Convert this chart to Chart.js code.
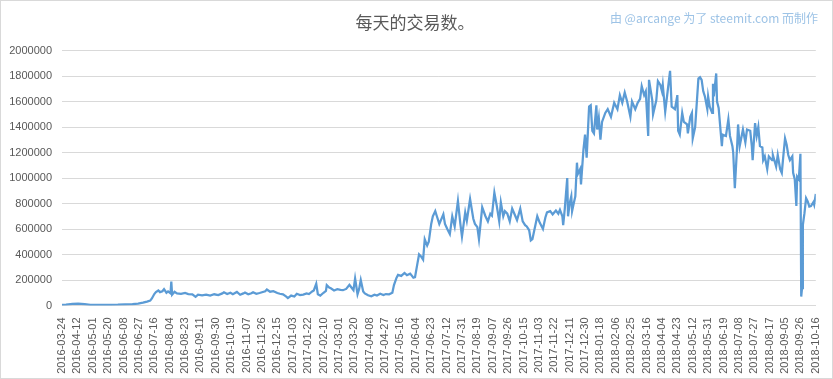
<!DOCTYPE html>
<html>
<head>
<meta charset="utf-8">
<script src="https://cdn.jsdelivr.net/npm/chart.js@4"></script>
<style>
  html, body { margin: 0; padding: 0; background: #ffffff; }
  canvas { display: block; }
</style>
</head>
<body>
<canvas id="txChart" width="833" height="379"></canvas>
<script>
// Daily transaction count on Steem, 2016-03-24 .. 2018-10-16
// x = days since 2016-03-24, y = transactions that day
const chartTitle = '每天的交易数。';
const creditText = '由 @arcange 为了 steemit.com 而制作';

const tickLabels = [
    '2016-03-24', '2016-04-12', '2016-05-01', '2016-05-20', '2016-06-08', '2016-06-27', '2016-07-16',
    '2016-08-04', '2016-08-23', '2016-09-11', '2016-09-30', '2016-10-19', '2016-11-07', '2016-11-26',
    '2016-12-15', '2017-01-03', '2017-01-22', '2017-02-10', '2017-03-01', '2017-03-20', '2017-04-08',
    '2017-04-27', '2017-05-16', '2017-06-04', '2017-06-23', '2017-07-12', '2017-07-31', '2017-08-19',
    '2017-09-07', '2017-09-26', '2017-10-15', '2017-11-03', '2017-11-22', '2017-12-11', '2017-12-30',
    '2018-01-18', '2018-02-06', '2018-02-25', '2018-03-16', '2018-04-04', '2018-04-23', '2018-05-12',
    '2018-05-31', '2018-06-19', '2018-07-08', '2018-07-27', '2018-08-17', '2018-09-05', '2018-09-26',
    '2018-10-16'
];

const days = [
    0, 5, 13, 20, 28, 35, 47, 60, 69, 78,
    87, 94, 100, 105, 109, 111, 114, 116, 119, 121,
    124, 126, 129, 131, 134, 135, 136, 139, 142, 147,
    152, 156, 161, 165, 168, 173, 178, 183, 188, 193,
    198, 200, 204, 208, 211, 216, 220, 224, 226, 230,
    234, 236, 240, 244, 247, 251, 253, 257, 261, 266,
    269, 273, 277, 279, 283, 287, 290, 294, 298, 302,
    305, 309, 311, 314, 316, 319, 323, 326, 327, 330,
    332, 336, 340, 344, 347, 351, 355, 357, 360, 362,
    365, 367, 369, 372, 374, 378, 382, 386, 389, 393,
    397, 400, 404, 408, 410, 413, 415, 419, 423, 426,
    430, 434, 436, 439, 441, 444, 446, 448, 451, 453,
    456, 458, 461, 463, 466, 468, 471, 473, 476, 479,
    482, 485, 489, 492, 494, 498, 500, 504, 508, 510,
    513, 515, 519, 523, 526, 529, 531, 534, 537, 540,
    542, 545, 547, 550, 553, 556, 560, 562, 566, 569,
    572, 574, 577, 579, 581, 583, 587, 590, 594, 597,
    599, 603, 606, 610, 613, 615, 618, 619, 621, 624,
    625, 627, 629, 630, 632, 634, 636, 637, 640, 641,
    644, 646, 648, 651, 653, 655, 657, 660, 661, 663,
    665, 667, 671, 674, 678, 682, 686, 689, 692, 695,
    698, 702, 704, 708, 711, 714, 716, 719, 721, 724,
    725, 729, 730, 734, 736, 739, 741, 742, 745, 748,
    751, 753, 755, 757, 760, 761, 763, 766, 768, 772,
    773, 776, 778, 779, 782, 786, 788, 790, 792, 794,
    797, 798, 800, 803, 804, 805, 808, 809, 811, 815,
    816, 820, 823, 825, 828, 829, 831, 834, 835, 837,
    841, 844, 846, 850, 852, 853, 856, 858, 860, 862,
    865, 866, 868, 871, 873, 877, 878, 882, 884, 887,
    889, 891, 893, 895, 897, 899, 902, 903, 905, 907,
    908, 910, 912, 913, 914, 915, 917, 919, 921, 923,
    925, 928, 929, 931
];

const transactions = [
    5000, 6000, 12000, 14000, 10000, 5000, 4000, 5000, 6000, 9000,
    11000, 15000, 22000, 30000, 38000, 55000, 90000, 105000, 118000, 105000,
    112000, 128000, 100000, 110000, 95000, 188000, 85000, 108000, 95000, 92000,
    98000, 90000, 88000, 68000, 85000, 80000, 86000, 78000, 88000, 82000,
    95000, 104000, 90000, 100000, 88000, 106000, 84000, 95000, 102000, 88000,
    96000, 104000, 92000, 98000, 104000, 112000, 125000, 108000, 112000, 98000,
    92000, 88000, 70000, 58000, 78000, 70000, 92000, 82000, 86000, 95000,
    90000, 110000, 118000, 170000, 88000, 78000, 100000, 115000, 160000, 140000,
    135000, 118000, 128000, 122000, 120000, 130000, 162000, 145000, 120000, 212000,
    88000, 130000, 200000, 110000, 95000, 80000, 72000, 85000, 78000, 92000,
    82000, 90000, 88000, 100000, 160000, 215000, 240000, 232000, 255000, 238000,
    250000, 218000, 222000, 330000, 400000, 380000, 360000, 520000, 470000, 500000,
    640000, 700000, 740000, 700000, 640000, 670000, 715000, 640000, 598000, 560000,
    700000, 620000, 820000, 640000, 540000, 730000, 665000, 835000, 680000, 640000,
    615000, 520000, 770000, 700000, 660000, 720000, 705000, 885000, 780000, 660000,
    808000, 700000, 740000, 720000, 660000, 760000, 700000, 670000, 760000, 660000,
    630000, 620000, 590000, 510000, 520000, 580000, 700000, 650000, 600000, 690000,
    730000, 740000, 715000, 745000, 720000, 750000, 700000, 630000, 760000, 1000000,
    700000, 800000, 856000, 740000, 800000, 856000, 1120000, 1030000, 1070000, 950000,
    1220000, 1340000, 1160000, 1560000, 1570000, 1370000, 1350000, 1570000, 1380000, 1470000,
    1300000, 1440000, 1510000, 1540000, 1480000, 1590000, 1540000, 1650000, 1590000, 1670000,
    1600000, 1480000, 1600000, 1540000, 1590000, 1620000, 1720000, 1650000, 1680000, 1330000,
    1770000, 1610000, 1500000, 1610000, 1760000, 1730000, 1680000, 1730000, 1520000, 1680000,
    1840000, 1560000, 1550000, 1540000, 1650000, 1370000, 1340000, 1510000, 1440000, 1420000,
    1350000, 1480000, 1510000, 1310000, 1400000, 1780000, 1790000, 1770000, 1680000, 1640000,
    1540000, 1640000, 1560000, 1510000, 1740000, 1640000, 1820000, 1600000, 1550000, 1250000,
    1340000, 1330000, 1460000, 1330000, 1250000, 1200000, 920000, 1270000, 1420000, 1250000,
    1380000, 1280000, 1380000, 1370000, 1250000, 1140000, 1430000, 1330000, 1400000, 1250000,
    1240000, 1140000, 1170000, 1070000, 1170000, 1140000, 1180000, 1090000, 1180000, 1070000,
    1040000, 1180000, 1310000, 1260000, 1180000, 1140000, 1170000, 1040000, 990000, 780000,
    1010000, 990000, 1190000, 70000, 136000, 630000, 724000, 842000, 816000, 776000,
    780000, 810000, 790000, 875000
];

const labelStep = 19; // one axis label every 19 days

// title, credit line and the thin frame round the whole picture
const decorPlugin = {
    id: 'decor',
    afterDraw(chart) {
        const ctx = chart.ctx;
        ctx.save();
        ctx.strokeStyle = '#d9d9d9';
        ctx.lineWidth = 1;
        ctx.strokeRect(0.5, 0.5, chart.width - 1, chart.height - 1);

        ctx.textBaseline = 'middle';
        ctx.fillStyle = '#595959';
        ctx.font = '17px "Noto Sans CJK SC"';
        ctx.textAlign = 'center';
        ctx.fillText(chartTitle, 415, 23);

        ctx.fillStyle = '#9dc3e6';
        ctx.font = '12px "Noto Sans CJK SC"';
        ctx.textAlign = 'right';
        ctx.fillText(creditText, 818, 18);
        ctx.restore();
    }
};

const ctx = document.getElementById('txChart').getContext('2d');

const chart = new Chart(ctx, {
    type: 'line',
    data: {
        datasets: [{
            label: chartTitle,
            data: days.map((d, i) => ({ x: d, y: transactions[i] })),
            borderColor: '#5b9bd5',
            borderWidth: 2.25,
            pointRadius: 0,
            tension: 0,
            fill: false
        }]
    },
    plugins: [decorPlugin],
    options: {
        responsive: false,
        animation: false,
        layout: {
            padding: { top: 50.5, right: 16.5, bottom: 0, left: 0 }
        },
        plugins: {
            legend: { display: false },
            tooltip: { enabled: false }
        },
        scales: {
            x: {
                type: 'linear',
                min: 0,
                max: (tickLabels.length - 1) * labelStep,
                afterFit: function(scale) {
                    scale.height = 73.5;
                },
                grid: { display: false },
                border: { display: true, color: '#d9d9d9' },
                ticks: {
                    stepSize: labelStep,
                    autoSkip: false,
                    maxRotation: 90,
                    minRotation: 90,
                    padding: 4,
                    color: '#595959',
                    font: { family: '"Liberation Sans"', size: 11 },
                    callback: function(value) {
                        return tickLabels[Math.round(value / labelStep)];
                    }
                }
            },
            y: {
                min: 0,
                max: 2000000,
                afterFit: function(scale) {
                    scale.width = 62;
                },
                grid: {
                    color: '#d9d9d9',
                    drawTicks: false
                },
                border: { display: false },
                ticks: {
                    stepSize: 200000,
                    padding: 10,
                    color: '#595959',
                    font: { family: '"Liberation Sans"', size: 11 },
                    callback: function(value) {
                        return String(value);
                    }
                }
            }
        }
    }
});
</script>
</body>
</html>
